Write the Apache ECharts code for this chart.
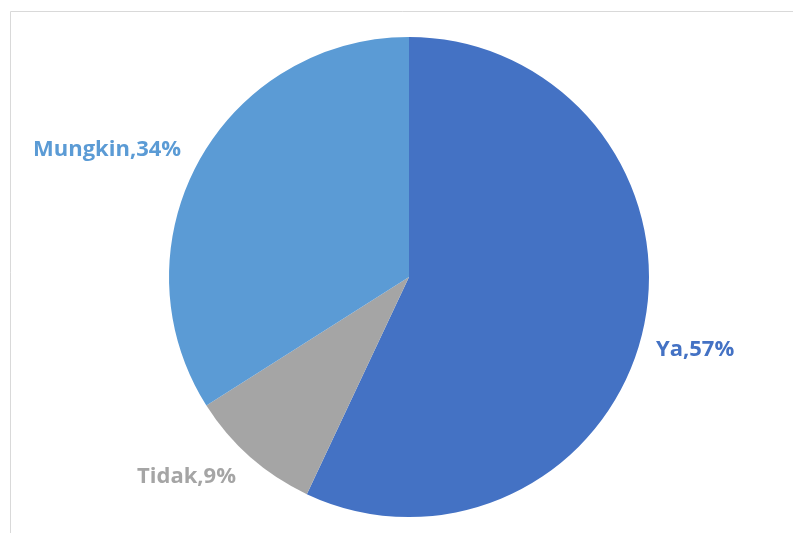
<!DOCTYPE html>
<html>
<head>
<meta charset="utf-8">
<script src="https://cdn.jsdelivr.net/npm/echarts@6/dist/echarts.min.js"></script>
<style>
  html, body { margin: 0; padding: 0; background: #fff; }
  #main { width: 793px; height: 533px; }
</style>
</head>
<body>
<div id="main"></div>
<script>
// data
var categories = ['Ya', 'Tidak', 'Mungkin'];
var values = [57, 9, 34];
var colors = ['#4472C4', '#A5A5A5', '#5B9BD5'];
// where excel put the labels (left x, middle y)
var labelPos = [[656, 350], [137, 477], [33, 150]];

var chart = echarts.init(document.getElementById('main'));

var pieData = categories.map(function (c, i) {
  return {
    name: c,
    value: values[i],
    itemStyle: { color: colors[i] },
    label: { color: colors[i] }
  };
});

chart.setOption({
  animation: false,
  graphic: [{
    type: 'rect',
    shape: { x: 10.5, y: 11.5, width: 800, height: 540 },
    style: { fill: 'none', stroke: '#d9d9d9', lineWidth: 1 }
  }],
  series: [{
    type: 'pie',
    center: [409, 277],
    radius: 240,
    startAngle: 90,
    clockwise: true,
    data: pieData,
    itemStyle: { borderColor: '#fff', borderWidth: 0 },
    label: {
      show: true,
      formatter: '{b},{d}%',
      fontFamily: 'Open Sans',
      fontWeight: 'bold',
      fontSize: 22,
      overflow: 'none'
    },
    labelLine: { show: false },
    labelLayout: function (params) {
      var p = labelPos[params.dataIndex];
      return { x: p[0], y: p[1], align: 'left', verticalAlign: 'middle' };
    }
  }]
});
</script>
</body>
</html>
